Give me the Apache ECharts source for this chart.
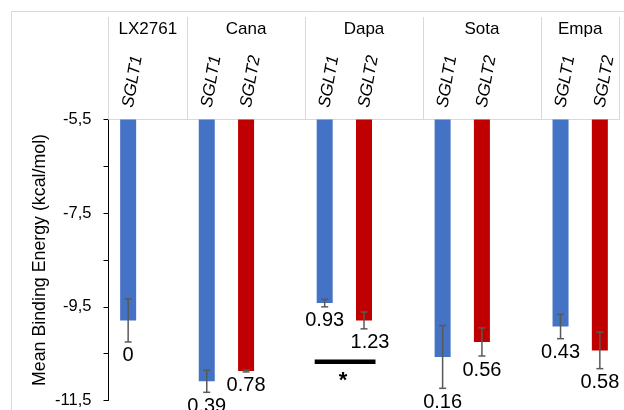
<!DOCTYPE html>
<html>
<head>
<meta charset="utf-8">
<script src="https://cdn.jsdelivr.net/npm/echarts@6/dist/echarts.min.js"></script>
<style>
  html, body { margin: 0; padding: 0; background: #fff; }
  #chart { width: 624px; height: 410px; }
</style>
</head>
<body>
<div id="chart"></div>
<script>
// ---- data ----
const categoryDrug   = ['LX2761','LX2761','Cana','Cana','Cana','Dapa','Dapa','Dapa','Sota','Sota','Sota','Empa','Empa'];
const categoryTarget = ['SGLT1','','SGLT1','SGLT2','','SGLT1','SGLT2','','SGLT1','SGLT2','','SGLT1','SGLT2'];
const meanEnergy     = [-9.79, null, -11.09, -10.87, null, -9.42, -9.79, null, -10.57, -10.25, null, -9.92, -10.43];
const errorSize      = [0.46, null, 0.235, 0.02, null, 0.08, 0.18, null, 0.67, 0.30, null, 0.26, 0.39];
const valueLabels    = ['0', '', '0.39', '0.78', '', '0.93', '1.23', '', '0.16', '0.56', '', '0.43', '0.58'];
const yTickLabels    = ['-11,5', '-7,5', '-9,5', '-5,5'];
const significantPair = [5, 6];
const significanceLevel = -10.67;
const yTitle = 'Mean Binding Energy (kcal/mol)';

const FONT = "'Liberation Sans', Arial, sans-serif";
const BLUE = '#4472C4', RED = '#C00000';

// group spans in half-slot units (for the drug header axis)
const groups = [];
categoryDrug.forEach((d, i) => {
  if (!groups.length || groups[groups.length - 1].name !== d) groups.push({ name: d, count: 0 });
  groups[groups.length - 1].count++;
});
const halfSlots = categoryDrug.length * 2;
const headerData = [];
for (let k = 0; k <= halfSlots; k++) headerData.push(String(k));
const boundaryIdx = new Set([0]);
const labelAt = {};
let pos = 0;
groups.forEach(g => {
  labelAt[pos + g.count] = g.name;
  pos += g.count * 2;
  boundaryIdx.add(pos);
});

const sglt1 = meanEnergy.map((v, i) => (categoryTarget[i] === 'SGLT1' && v !== null) ? v : '-');
const sglt2 = meanEnergy.map((v, i) => (categoryTarget[i] === 'SGLT2' && v !== null) ? v : '-');
const errData = [];
meanEnergy.forEach((v, i) => { if (v !== null) errData.push([i, v, errorSize[i], i]); });
const labelNudgeX = { 6: 6 };

const chart = echarts.init(document.getElementById('chart'), null, { renderer: 'canvas' });

const frameRect = {
  type: 'rect', id: 'frame', z: -10, silent: true,
  shape: { x: 11.5, y: 11.5, width: 800, height: 600 },
  style: { fill: 'none', stroke: '#d9d9d9', lineWidth: 1 }
};

const option = {
  animation: false,
  backgroundColor: '#fff',
  grid: { left: 108.5, right: 4.5, top: 119.5, bottom: 9.5, containLabel: false },
  graphic: [frameRect],
  xAxis: [{
    type: 'category',
    data: categoryTarget,
    position: 'top',
    axisLine: { show: false },
    axisTick: { show: false },
    axisLabel: {
      interval: 0, rotate: -80, margin: 12,
      fontStyle: 'italic', fontSize: 17, color: '#000', fontFamily: FONT
    },
    splitLine: { show: false }
  }, {
    type: 'category',
    data: headerData,
    boundaryGap: false,
    position: 'top',
    axisLine: { show: true, lineStyle: { color: '#d9d9d9', width: 1 } },
    axisTick: {
      show: true, length: 102.5,
      interval: (i) => boundaryIdx.has(i),
      lineStyle: { color: '#d9d9d9', width: 1 }
    },
    axisLabel: {
      interval: 0, margin: 82, fontSize: 17, color: '#000', fontFamily: FONT,
      formatter: (v) => labelAt[+v] || ''
    },
    splitLine: { show: false }
  }],
  yAxis: {
    type: 'value',
    min: -11.5, max: -5.5, interval: 1,
    axisLine: { show: true, lineStyle: { color: '#000', width: 1 } },
    axisTick: { show: true, length: 5, lineStyle: { color: '#000', width: 1 } },
    splitLine: { show: false },
    axisLabel: {
      margin: 17, fontSize: 16.5, color: '#000', fontFamily: FONT,
      formatter: (v) => {
        const s = String(v).replace('.', ',');
        return yTickLabels.indexOf(s) >= 0 ? s : '';
      }
    }
  },
  series: [{
    name: 'SGLT1', type: 'bar', data: sglt1, barWidth: 16, barGap: '-100%',
    itemStyle: { color: BLUE }, clip: true
  }, {
    name: 'SGLT2', type: 'bar', data: sglt2, barWidth: 16, barGap: '-100%',
    itemStyle: { color: RED }, clip: true
  }, {
    type: 'custom', data: errData, clip: false, z: 5,
    renderItem: (params, api) => {
      const i = api.value(0), m = api.value(1), e = api.value(2);
      const top = api.coord([i, m + e]);
      const bot = api.coord([i, m - e]);
      const x = top[0];
      const cap = 3.5;
      const idx = api.value(3);
      return {
        type: 'group',
        children: [
          { type: 'line', shape: { x1: x, y1: top[1], x2: x, y2: bot[1] }, style: { stroke: '#595959', lineWidth: 1.5 } },
          { type: 'line', shape: { x1: x - cap, y1: top[1], x2: x + cap, y2: top[1] }, style: { stroke: '#595959', lineWidth: 1.5 } },
          { type: 'line', shape: { x1: x - cap, y1: bot[1], x2: x + cap, y2: bot[1] }, style: { stroke: '#595959', lineWidth: 1.5 } },
          { type: 'text', style: {
              text: valueLabels[idx], x: x + (labelNudgeX[idx] || 0), y: bot[1] + 14,
              align: 'center', verticalAlign: 'middle', textAlign: 'center', textVerticalAlign: 'middle',
              fontSize: 20, fontFamily: FONT, fill: '#000'
          } }
        ]
      };
    }
  }, {
    type: 'custom', data: [[significantPair[0], significantPair[1], significanceLevel]], clip: false, z: 5,
    renderItem: (params, api) => {
      const a = api.coord([api.value(0), api.value(2)]);
      const b = api.coord([api.value(1), api.value(2)]);
      const x1 = a[0] - 10, x2 = b[0] + 11.5, y = a[1];
      return {
        type: 'group',
        children: [
          { type: 'line', shape: { x1: x1, y1: y, x2: x2, y2: y }, style: { stroke: '#000', lineWidth: 4.5 } },
          { type: 'text', style: {
              text: '*', x: (x1 + x2) / 2 - 2, y: y + 19,
              align: 'center', verticalAlign: 'middle', textAlign: 'center', textVerticalAlign: 'middle',
              fontSize: 22, fontWeight: 'bold', fontFamily: FONT, fill: '#000'
          } }
        ]
      };
    }
  }]
};
chart.setOption(option);

// y-axis title, centred on the value axis' middle
const yMid = chart.convertToPixel({ yAxisIndex: 0 }, -8.5);
const xAxisPix = chart.convertToPixel({ xAxisIndex: 0 }, 0) - 19.66;
chart.setOption({
  graphic: [frameRect, {
    type: 'text', id: 'ytitle', silent: true,
    x: xAxisPix - 68, y: yMid, rotation: Math.PI / 2,
    style: {
      text: yTitle, align: 'center', verticalAlign: 'middle',
      textAlign: 'center', textVerticalAlign: 'middle',
      fontSize: 17.8, fontFamily: FONT, fill: '#000'
    }
  }]
});
</script>
</body>
</html>
